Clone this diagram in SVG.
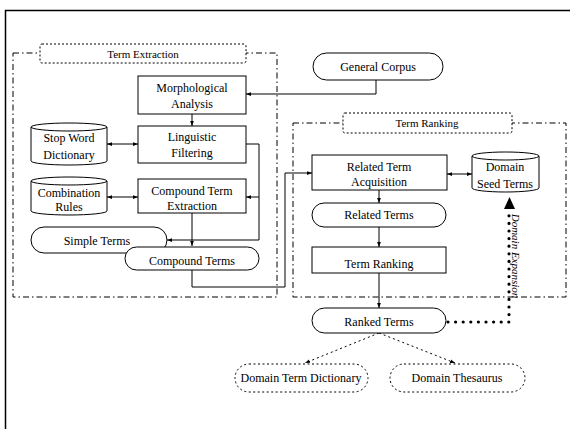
<svg xmlns="http://www.w3.org/2000/svg" width="570" height="429" viewBox="0 0 570 429">
<defs>
<marker id="ah" viewBox="0 0 8 8" refX="8" refY="4" markerWidth="5" markerHeight="5" orient="auto-start-reverse" markerUnits="userSpaceOnUse">
<path d="M0,1 L8,4 L0,7 Z" fill="#000"/>
</marker>
<style>
text{font-family:"Liberation Serif","Times New Roman",serif;font-size:12px;fill:#000;text-anchor:middle}
.lbl{font-size:11px}
.box{fill:#fff;stroke:#000;stroke-width:1}
.grp{fill:none;stroke:#000;stroke-width:1;stroke-dasharray:6 3 1.5 3}
.gl{fill:#fff;stroke:#000;stroke-width:1;stroke-dasharray:2 2}
.dot{fill:#fff;stroke:#000;stroke-width:1;stroke-dasharray:2 2.5}
.c{fill:none;stroke:#000;stroke-width:1}
.cd{fill:none;stroke:#000;stroke-width:1;stroke-dasharray:2 3}
</style>
</defs>
<rect width="570" height="429" fill="#fff"/>
<path d="M5.5,429 V10.5 H570" fill="none" stroke="#000" stroke-width="1.5"/>

<g id="term-extraction-group">
<rect class="grp" x="13" y="53" width="264" height="244"/>
<rect class="gl" x="40" y="44" width="206" height="19" rx="2"/>
<text class="lbl" x="143" y="58">Term Extraction</text>
</g>
<g id="term-ranking-group">
<rect class="grp" x="293" y="123" width="273" height="174"/>
<rect class="gl" x="343" y="113" width="169" height="20" rx="2"/>
<text class="lbl" x="427" y="127">Term Ranking</text>
</g>

<g id="connectors">
<path class="c" d="M192,114 V126" marker-end="url(#ah)"/>
<path class="c" d="M107,144 H138" marker-start="url(#ah)" marker-end="url(#ah)"/>
<path class="c" d="M107,197 H138" marker-start="url(#ah)" marker-end="url(#ah)"/>
<path class="c" d="M246,144 H259 V240 H167" marker-end="url(#ah)"/>
<path class="c" d="M259,197 H246" marker-end="url(#ah)"/>
<path class="c" d="M192,213 V246" marker-end="url(#ah)"/>
<path class="c" d="M192,270 V287 H285 V173 H312" marker-end="url(#ah)"/>
<path class="c" d="M376,80 V94 H246" marker-end="url(#ah)"/>
<path class="c" d="M447,174 H472" marker-start="url(#ah)" marker-end="url(#ah)"/>
<path class="c" d="M379,190 V203" marker-end="url(#ah)"/>
<path class="c" d="M379,227 V247" marker-end="url(#ah)"/>
<path class="c" d="M379,273 V308" marker-end="url(#ah)"/>
<path class="cd" d="M379,333 L305,363" marker-end="url(#ah)"/>
<path class="cd" d="M379,333 L455,363" marker-end="url(#ah)"/>
<path d="M448,322 H509 V212" fill="none" stroke="#000" stroke-width="3.2" stroke-linecap="round" stroke-dasharray="0 7.6"/>
<polygon points="509.5,197 504,209 515,209" fill="#000"/>
<text x="0" y="0" transform="translate(512,256) rotate(90)" style="font-size:11px;font-style:italic">Domain Expansion</text>
</g>

<g id="general-corpus">
<rect class="box" x="313" y="53" width="130" height="27" rx="13.5"/>
<text x="378" y="71">General Corpus</text>
</g>
<g id="morphological-analysis">
<rect class="box" x="138" y="76" width="108" height="38"/>
<text x="192" y="92">Morphological</text>
<text x="192" y="108">Analysis</text>
</g>
<g id="linguistic-filtering">
<rect class="box" x="138" y="126" width="108" height="37"/>
<text x="192" y="141">Linguistic</text>
<text x="192" y="157">Filtering</text>
</g>
<g id="stop-word-dictionary">
<path class="box" d="M31,127 A38,4 0 0 1 107,127 V161 A38,4 0 0 1 31,161 Z"/>
<path class="c" d="M31,127 A38,4 0 0 0 107,127"/>
<text x="69" y="142">Stop Word</text>
<text x="69" y="159">Dictionary</text>
</g>
<g id="compound-term-extraction">
<rect class="box" x="138" y="179" width="108" height="34"/>
<text x="192" y="195">Compound Term</text>
<text x="192" y="210">Extraction</text>
</g>
<g id="combination-rules">
<path class="box" d="M31,181 A38,4 0 0 1 107,181 V211 A38,4 0 0 1 31,211 Z"/>
<path class="c" d="M31,181 A38,4 0 0 0 107,181"/>
<text x="69" y="197">Combination</text>
<text x="69" y="211">Rules</text>
</g>
<g id="simple-terms">
<rect class="box" x="31" y="227" width="136" height="26" rx="13"/>
<text x="97" y="245">Simple Terms</text>
</g>
<g id="compound-terms">
<rect class="box" x="125" y="247" width="134" height="23" rx="11.5"/>
<text x="192" y="265">Compound Terms</text>
</g>
<g id="related-term-acquisition">
<rect class="box" x="312" y="155" width="135" height="35"/>
<text x="379" y="171">Related Term</text>
<text x="379" y="186">Acquisition</text>
</g>
<g id="domain-seed-terms">
<path class="box" d="M472,156 A33.5,4 0 0 1 539,156 V188 A33.5,4 0 0 1 472,188 Z"/>
<path class="c" d="M472,156 A33.5,4 0 0 0 539,156"/>
<text x="505" y="171">Domain</text>
<text x="505" y="188">Seed Terms</text>
</g>
<g id="related-terms">
<rect class="box" x="312" y="203" width="134" height="24" rx="12"/>
<text x="379" y="219">Related Terms</text>
</g>
<g id="term-ranking">
<rect class="box" x="312" y="247" width="134" height="26"/>
<text x="379" y="268">Term Ranking</text>
</g>
<g id="ranked-terms">
<rect class="box" x="312" y="308" width="134" height="25" rx="12.5"/>
<text x="379" y="326">Ranked Terms</text>
</g>
<g id="domain-term-dictionary">
<rect class="dot" x="235" y="364" width="133" height="28" rx="14"/>
<text x="301" y="382">Domain Term Dictionary</text>
</g>
<g id="domain-thesaurus">
<rect class="dot" x="390" y="364" width="135" height="28" rx="14"/>
<text x="457" y="382">Domain Thesaurus</text>
</g>
</svg>
